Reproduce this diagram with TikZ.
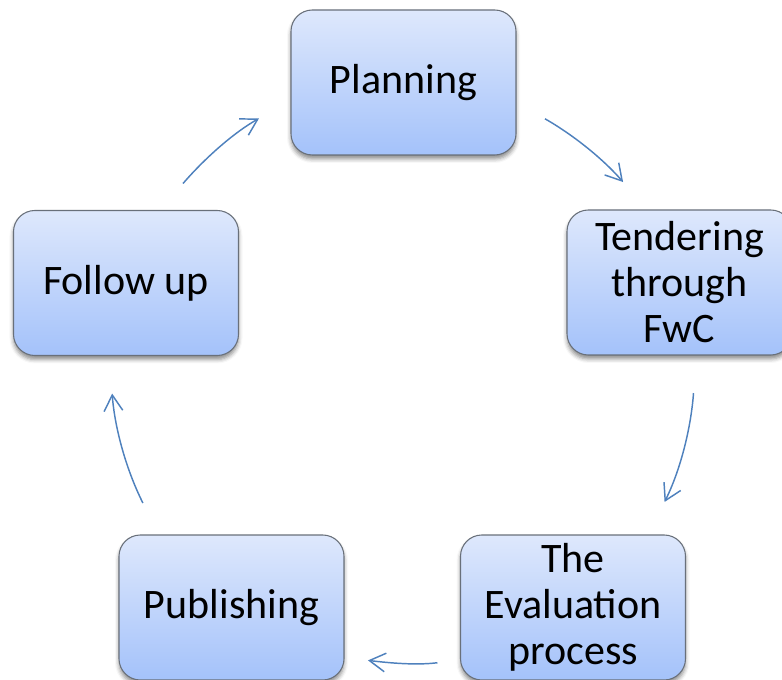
\documentclass[tikz,border=0pt]{standalone}
\usepackage{fontspec}
\setmainfont{Carlito}
\usetikzlibrary{arrows.meta,shadows.blur}
\definecolor{boxtop}{RGB}{222,232,252}
\definecolor{boxbot}{RGB}{164,194,250}
\definecolor{boxline}{RGB}{105,112,122}
\definecolor{arrowblue}{RGB}{79,129,189}

\begin{document}
\begin{tikzpicture}[x=0.75pt,y=0.75pt,
  stage/.style={draw=boxline, line width=0.8pt, rounded corners=16pt, top color=boxtop, bottom color=boxbot,
    minimum width=168.75pt, minimum height=108.75pt, inner sep=2pt, outer sep=0pt, align=center,
    font=\fontsize{31.5}{34.5}\selectfont,
    blur shadow={shadow xshift=0pt, shadow yshift=-3pt, shadow blur radius=3pt, shadow opacity=45}},
  flowarc/.style={draw=arrowblue, line width=1.1pt, -{Straight Barb[length=12pt,width=14pt]}}]
%set diagram left start at 0, and has height of 679
\useasboundingbox (0,0) rectangle (782,679);

%Shape: Rounded Rect
\node[stage] (plan) at (403.5,596.5) {Planning};
%Shape: Rounded Rect
\node[stage] (tend) at (679.5,396.5) {Tendering\\through\\FwC};
%Shape: Rounded Rect
\node[stage] (eval) at (573,71.5) {The\\Evaluation\\process};
%Shape: Rounded Rect
\node[stage] (pub) at (231.5,71.5) {Publishing};
%Shape: Rounded Rect
\node[stage] (fol) at (126,396) {Follow up};

%Curve Lines
\draw[flowarc, shorten <=25pt, shorten >=27.7pt] (plan.-10.6) to[out=-29.6, in=130.8] (tend.114.7);
%Curve Lines
\draw[flowarc, shorten <=28.6pt, shorten >=27.7pt] (tend.-77.4) to[out=-94.1, in=63.5] (eval.44.6);
%Curve Lines
\draw[flowarc, shorten <=17.4pt, shorten >=18.1pt] (eval.-155.8) to[out=-173.1, in=-6.7] (pub.-24.3);
%Curve Lines
\draw[flowarc, shorten <=26.9pt, shorten >=28.6pt] (pub.135.4) to[out=116.7, in=-85.7] (fol.-103);
%Curve Lines
\draw[flowarc, shorten <=26.7pt, shorten >=27.6pt] (fol.65.8) to[out=49.3, in=-150.5] (plan.189.3);

\end{tikzpicture}
\end{document}
